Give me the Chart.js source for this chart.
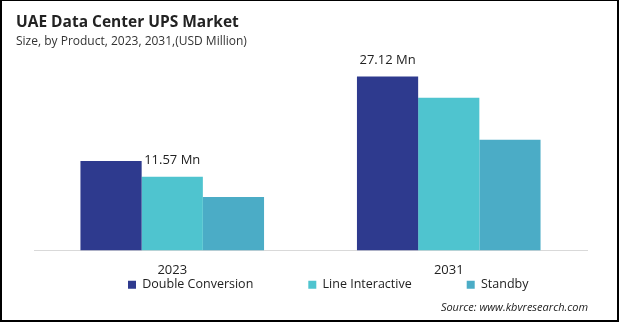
<!DOCTYPE html>
<html>
<head>
<meta charset="utf-8">
<script src="https://cdn.jsdelivr.net/npm/chart.js@4.4.1/dist/chart.umd.min.js"></script>
<style>
  html, body { margin: 0; padding: 0; background: #fff; }
  #wrap { position: relative; width: 619px; height: 322px; font-family: 'Open Sans', sans-serif; color: #222; }
  #wrap canvas { position: absolute; left: 0; top: 0; }
  .title { position: absolute; left: 16px; top: 13.5px; font-size: 15.5px; font-weight: 700; line-height: 1; white-space: nowrap; }
  .subtitle { position: absolute; left: 16px; top: 35px; font-size: 12px; line-height: 1; white-space: nowrap; color: #333; }
  .source { position: absolute; right: 31px; top: 301px; font-size: 11px; font-style: italic; line-height: 1; white-space: nowrap; color: #222; }
  .frame { position: absolute; left: 0; top: 0; width: 619px; height: 322px; box-sizing: border-box; border: 2px solid #000; border-top-width: 1px; pointer-events: none; }
</style>
</head>
<body>
<div id="wrap">
  <canvas id="myChart" width="619" height="322"></canvas>
  <div class="title">UAE Data Center UPS Market</div>
  <div class="subtitle">Size, by Product, 2023, 2031,(USD Million)</div>
  <div class="source">Source: www.kbvresearch.com</div>
  <div class="frame"></div>
</div>
<script>
const categories = ['2023', '2031'];
const seriesNames = ['Double Conversion', 'Line Interactive', 'Standby'];
const doubleConversion = [11.57, 27.12];
const lineInteractive = [8.7, 23.2];
const standby = [4.95, 15.5];
const seriesColors = ['#2E3A8E', '#4FC4CF', '#4BACC6'];

// value axis does not start at zero in the original graphic
const yMin = -4.85;
const yMax = 30.15;
const legendGap = 55;

// "11.57 Mn" style labels on the Double Conversion bars
const valueLabels = {
    id: 'valueLabels',
    afterDatasetsDraw(chart) {
        const ctx = chart.ctx;
        const xScale = chart.scales.x;
        const meta = chart.getDatasetMeta(0);
        ctx.save();
        ctx.font = '13px "Open Sans"';
        ctx.fillStyle = '#222';
        ctx.textAlign = 'center';
        ctx.textBaseline = 'middle';
        meta.data.forEach((bar, i) => {
            const px = i === 0 ? xScale.getPixelForValue(i) : bar.x;
            const py = i === 0 ? bar.y - 1 : bar.y - 16;
            ctx.fillText(doubleConversion[i].toFixed(2) + ' Mn', px, py);
        });
        ctx.restore();
    }
};

// legend items are spread wide (big padding), so pull the legend box up
// under the year labels and move it right; bottom stays so nothing is clipped
const legendShift = {
    id: 'legendShift',
    afterLayout(chart) {
        const l = chart.legend;
        l.top = chart.scales.x.bottom - legendGap - 11.5;
        l.left += 39;
        l.right += 39;
    }
};

const ctx = document.getElementById('myChart');
new Chart(ctx, {
    type: 'bar',
    data: {
        labels: categories,
        datasets: [
            { label: seriesNames[0], data: doubleConversion, backgroundColor: seriesColors[0], base: yMin },
            { label: seriesNames[1], data: lineInteractive, backgroundColor: seriesColors[1], base: yMin },
            { label: seriesNames[2], data: standby, backgroundColor: seriesColors[2], base: yMin }
        ]
    },
    options: {
        responsive: false,
        animation: false,
        layout: { padding: { left: 34, right: 32, top: 60, bottom: 12 } },
        datasets: {
            bar: { categoryPercentage: 0.664, barPercentage: 1, borderWidth: 0 }
        },
        scales: {
            x: {
                grid: { display: false, drawTicks: false },
                border: { display: true, color: '#d9d9d9', width: 1 },
                ticks: { color: '#222', font: { family: 'Open Sans', size: 13 }, padding: 12 }
            },
            y: {
                display: false,
                min: yMin,
                max: yMax
            }
        },
        plugins: {
            legend: {
                position: 'bottom',
                align: 'start',
                maxHeight: 20,
                labels: {
                    boxWidth: 8,
                    boxHeight: 8,
                    padding: legendGap,
                    color: '#222',
                    font: { family: 'Open Sans', size: 12.5 }
                }
            },
            tooltip: { enabled: false }
        }
    },
    plugins: [valueLabels, legendShift]
});
</script>
</body>
</html>
